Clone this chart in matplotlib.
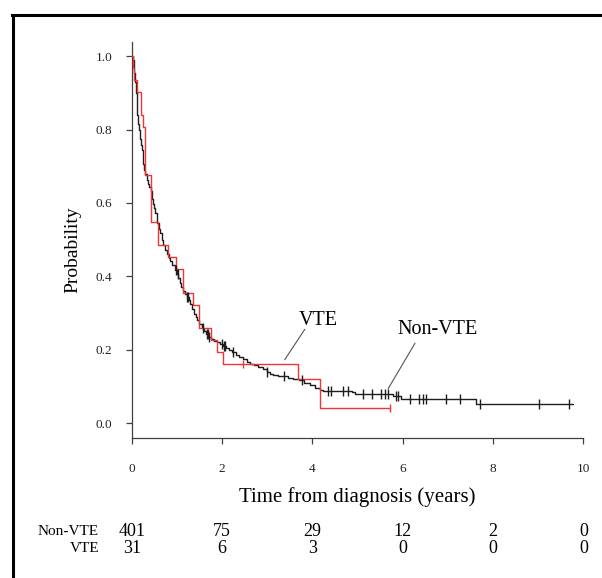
import numpy as np
import matplotlib

matplotlib.use("Agg")
import matplotlib.pyplot as plt
from matplotlib.lines import Line2D
from matplotlib.transforms import blended_transform_factory

plt.rcParams["font.family"] = ["Liberation Serif", "DejaVu Serif"]

# Kaplan-Meier steps: event time (years), survival after it.
NONVTE_T = [0.00, 0.02, 0.04, 0.06, 0.08, 0.10, 0.11, 0.12, 0.14, 0.16, 0.18,
            0.20, 0.22, 0.24, 0.26, 0.28, 0.30, 0.33, 0.36, 0.39, 0.42, 0.44,
            0.46, 0.48, 0.50, 0.52, 0.55, 0.57, 0.60, 0.63, 0.66, 0.70, 0.74,
            0.78, 0.82, 0.85, 0.90, 0.95, 1.00, 1.03, 1.07, 1.10, 1.14, 1.18,
            1.22, 1.26, 1.30, 1.34, 1.38, 1.42, 1.45, 1.50, 1.55, 1.60, 1.65,
            1.70, 1.76, 1.82, 1.88, 1.95, 2.02, 2.08, 2.15, 2.22, 2.30, 2.38,
            2.46, 2.55, 2.62, 2.70, 2.80, 2.90, 2.99, 3.06, 3.13, 3.25, 3.45,
            3.58, 3.70, 3.82, 3.94, 4.06, 4.17, 4.24, 4.87, 4.94, 5.79, 5.97,
            7.62]
NONVTE_S = [1.000, 0.990, 0.975, 0.955, 0.930, 0.900, 0.870, 0.840, 0.815,
            0.798, 0.775, 0.758, 0.744, 0.725, 0.707, 0.690, 0.678, 0.662,
            0.652, 0.642, 0.632, 0.622, 0.610, 0.598, 0.585, 0.572, 0.558,
            0.546, 0.530, 0.518, 0.500, 0.486, 0.472, 0.460, 0.450, 0.442,
            0.430, 0.418, 0.405, 0.395, 0.382, 0.371, 0.360, 0.352, 0.344,
            0.334, 0.324, 0.310, 0.298, 0.288, 0.280, 0.270, 0.260, 0.252,
            0.243, 0.235, 0.229, 0.224, 0.220, 0.215, 0.210, 0.205, 0.199,
            0.193, 0.186, 0.180, 0.174, 0.167, 0.162, 0.157, 0.152, 0.146,
            0.140, 0.135, 0.130, 0.127, 0.124, 0.121, 0.116, 0.110, 0.103,
            0.096, 0.090, 0.088, 0.084, 0.080, 0.074, 0.066, 0.051]
NONVTE_END = 9.77
NONVTE_CENSOR = [0.98, 1.02, 1.22, 1.25, 1.58, 1.66, 1.69, 1.72, 2.01, 2.04,
                 2.07, 2.25, 2.99, 3.37, 3.76, 4.35, 4.42, 4.68, 4.79, 5.12,
                 5.31, 5.53, 5.60, 5.68, 5.86, 5.90, 6.16, 6.36, 6.44, 6.51,
                 6.97, 7.26, 7.71, 9.02, 9.68]

VTE_T = [0.00, 0.03, 0.06, 0.11, 0.20, 0.26, 0.30, 0.42, 0.59, 0.81, 0.98,
         1.14, 1.35, 1.48, 1.75, 1.88, 2.03, 3.69, 4.17]
VTE_S = [1.000, 0.968, 0.935, 0.903, 0.839, 0.806, 0.677, 0.548, 0.484, 0.452,
         0.419, 0.355, 0.323, 0.258, 0.226, 0.194, 0.161, 0.121, 0.042]
VTE_END = 5.72
VTE_CENSOR = [2.47, 5.72]

# Number at risk table, one column per x tick
RISK_TIMES = [0, 2, 4, 6, 8, 10]
RISK_LABELS = ["Non-VTE", "VTE"]
RISK_NONVTE = [401, 75, 29, 12, 2, 0]
RISK_VTE = [31, 6, 3, 0, 0, 0]

BLACK = "#1e1e1e"
RED = "#f23434"
AXIS = "#404040"


def km(ax, t, s, end, censor, color, msize):
    tt = np.append(t, end)
    ss = np.append(s, s[-1])
    ax.step(tt, ss, where="post", color=color, lw=1.0, zorder=3)
    idx = np.searchsorted(t, censor, side="right") - 1
    ax.plot(censor, np.asarray(s)[idx], ls="none", marker="|", ms=msize,
            mew=1.0, color=color, zorder=4)


fig = plt.figure(figsize=(6.02, 5.78), dpi=100)
ax = fig.add_axes([0.2188, 0.2427, 0.7502, 0.6843])

km(ax, NONVTE_T, NONVTE_S, NONVTE_END, NONVTE_CENSOR, BLACK, 7)
km(ax, VTE_T, VTE_S, VTE_END, VTE_CENSOR, RED, 6)

ax.set_xlim(0, 10)
ax.set_ylim(-0.04, 1.038)
ax.set_xticks(np.arange(0, 11, 2))
ax.set_yticks(np.arange(0, 1.01, 0.2))
ax.set_yticklabels([f"{v:.1f}" for v in np.arange(0, 1.01, 0.2)])
for side in ["top", "right"]:
    ax.spines[side].set_visible(False)
for side in ["left", "bottom"]:
    ax.spines[side].set_color(AXIS)
    ax.spines[side].set_linewidth(0.9)
ax.tick_params(axis="both", colors=AXIS, labelcolor="#222222", length=4,
               width=0.9, labelsize=9.5)
ax.tick_params(axis="x", pad=14)
ax.tick_params(axis="y", pad=10)
ax.set_xlabel("Time from diagnosis (years)", fontsize=15, labelpad=9)
ax.set_ylabel("Probability", fontsize=14)
ax.yaxis.set_label_coords(-0.112, 0.475)

# Curve labels with leader lines
ax.text(4.14, 0.28, "VTE", fontsize=14.5, ha="center", va="center")
ax.plot([3.83, 3.39], [0.255, 0.173], color="#555555", lw=0.8)
ax.text(6.77, 0.255, "Non-VTE", fontsize=14.5, ha="center", va="center")
ax.plot([6.27, 5.68], [0.217, 0.094], color="#555555", lw=0.8)

# Number-at-risk rows, aligned under the x ticks
trans = blended_transform_factory(ax.transData, fig.transFigure)
for row, (label, vals) in enumerate(zip(RISK_LABELS, [RISK_NONVTE, RISK_VTE])):
    y = 0.0813 - row * 0.0294
    fig.text(99 / 602, y, label, fontsize=11, ha="right", va="center")
    for t, v in zip(RISK_TIMES, vals):
        ax.text(t, y, str(v), fontsize=13, ha="center", va="center",
                transform=trans, clip_on=False)

# Page frame (left and top edges visible)
fig.add_artist(Line2D([0.0211, 0.0211], [0.0, 0.9746], color="black", lw=2.2))
fig.add_artist(Line2D([0.0195, 1.0], [0.9746, 0.9746], color="black", lw=2.2))

fig.savefig("out.png", dpi=100)
